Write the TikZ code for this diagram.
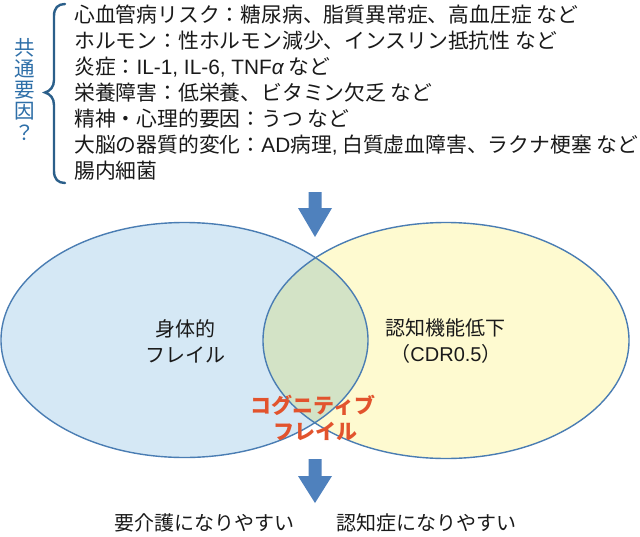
\documentclass[tikz,border=0pt]{standalone}
\usepackage{fontspec}
\setmainfont{Noto Sans CJK JP}
\newfontfamily\latinfont{Liberation Sans}
\definecolor{leftfill}{HTML}{D5E8F5}
\definecolor{rightfill}{HTML}{FEFAD0}
\definecolor{midfill}{HTML}{D3E3C6}
\definecolor{edge}{HTML}{4A7DB3}
\definecolor{arrowblue}{HTML}{4F81BD}
\definecolor{bracecol}{HTML}{2B5F8A}
\definecolor{vertblue}{HTML}{2E6FA8}
\definecolor{redtxt}{HTML}{E2532D}
\definecolor{txt}{HTML}{1A1A1A}
\tikzset{
  body/.style={font=\fontsize{20.8}{24}\selectfont, text=txt, inner sep=0pt},
  lab/.style={font=\fontsize{20}{24}\selectfont, text=txt, inner sep=0pt, text height=17.6pt, text depth=2.4pt},
  vert/.style={font=\fontsize{20.5}{22}\selectfont, text=vertblue, inner sep=0pt, text height=18pt, text depth=2.5pt},
  cogn/.style={font=\fontsize{21}{24}\selectfont\bfseries, text=redtxt, inner sep=0pt, text height=18.5pt, text depth=2.5pt},
  blockarrow/.style={fill=arrowblue, draw=none},
  ell/.style={draw=edge, line width=1.4pt}
}
\begin{document}
\begin{tikzpicture}[x=1pt,y=-1pt]
\useasboundingbox (0,0) rectangle (640,536);
\fill[white] (0,0) rectangle (640,536);

% brace
\draw[bracecol, line width=2.4pt, line cap=round]
  (65,4) .. controls (58,4) and (54,8) .. (54,16) -- (54,80)
  .. controls (54,87) and (50,91) .. (45,92.5)
  .. controls (50,94) and (54,98) .. (54,105) -- (54,171)
  .. controls (54,179) and (58,183) .. (65,183);

% vertical label
\node[vert] (v1) at (25,48) {共};
\node[vert] (v2) at (25,69) {通};
\node[vert] (v3) at (25,90) {要};
\node[vert] (v4) at (25,111) {因};
\node[vert] (v5) at (25,133) {？};

% list of factors
\node[body, anchor=base west] (l1) at (74,22.9) {心血管病リスク：糖尿病、脂質異常症、高血圧症 など};
\node[body, anchor=base west] (l2) at (74,48.9) {ホルモン：性ホルモン減少、インスリン抵抗性 など};
\node[body, anchor=base west] (l3) at (74,74.9) {炎症：{\latinfont IL-1, IL-6, TNF\itshape α} など};
\node[body, anchor=base west] (l4) at (74,100.9) {栄養障害：低栄養、ビタミン欠乏 など};
\node[body, anchor=base west] (l5) at (74,126.9) {精神・心理的要因：うつ など};
\node[body, anchor=base west] (l6) at (74,152.9) {大脳の器質的変化：{\latinfont AD}病理{\latinfont ,} 白質虚血障害、ラクナ梗塞 など};
\node[body, anchor=base west] (l7) at (74,178.9) {腸内細菌};

% top arrow
\fill[blockarrow] (308.5,192) -- (321.5,192) -- (321.5,208) -- (332,208) -- (315,237) -- (298,208) -- (308.5,208) -- cycle;

% ellipses
\fill[leftfill] (184.5,340) ellipse [x radius=183.5, y radius=117.5];
\fill[rightfill] (446,340.5) ellipse [x radius=183, y radius=118];
\begin{scope}
  \clip (184.5,340) ellipse [x radius=183.5, y radius=117.5];
  \fill[midfill] (446,340.5) ellipse [x radius=183, y radius=118];
\end{scope}
\draw[ell] (184.5,340) ellipse [x radius=183.5, y radius=117.5];
\draw[ell] (446,340.5) ellipse [x radius=183, y radius=118];

% ellipse labels
\node[lab] (p1) at (185,329) {身体的};
\node[lab] (p2) at (185,355) {フレイル};
\node[lab] (c1) at (445,328) {認知機能低下};
\node[lab] (c2) at (446,354) {（{\latinfont CDR0.5}）};

% cognitive frailty
\node[cogn] (g1) at (313,405) {コグニティブ};
\node[cogn] (g2) at (315,431) {フレイル};

% bottom arrow
\fill[blockarrow] (308.5,459) -- (321.5,459) -- (321.5,476) -- (332,476) -- (315,503) -- (298,476) -- (308.5,476) -- cycle;

% outcomes
\node[lab] (o1) at (204,523) {要介護になりやすい};
\node[lab] (o2) at (426.5,523) {認知症になりやすい};
\end{tikzpicture}
\end{document}
